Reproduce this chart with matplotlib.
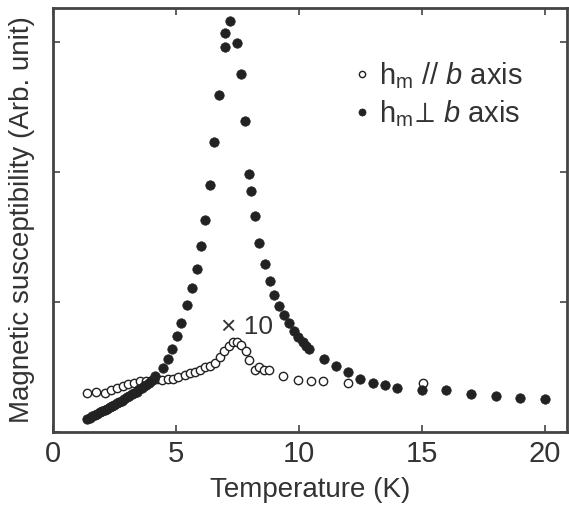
import matplotlib
matplotlib.use("Agg")
import matplotlib.pyplot as plt

main = 'Liberation Sans'
plt.rcParams['font.family'] = [main, 'DejaVu Sans']
plt.rcParams['mathtext.fontset'] = 'custom'
plt.rcParams['mathtext.rm'] = main
plt.rcParams['mathtext.it'] = main + ':italic'
plt.rcParams['mathtext.fallback'] = 'stixsans'

TXT = '#333333'
DOT = '#222222'

# h_m perpendicular to b axis (filled)
T_perp = [1.40, 1.50, 1.60, 1.70, 1.80, 1.90, 2.00, 2.10, 2.20, 2.30, 2.40, 2.50,
          2.60, 2.70, 2.80, 2.90, 3.00, 3.10, 3.20, 3.30, 3.40, 3.50, 3.60, 3.70,
          3.80, 3.90, 4.00, 4.10, 4.15,
          4.46, 4.66, 4.85, 5.03, 5.20, 5.43, 5.64, 5.84, 6.00, 6.17, 6.38, 6.56,
          6.76, 6.99, 7.00, 7.20, 7.47, 7.63, 7.80, 7.98, 8.04, 8.21, 8.39,
          8.62, 8.82, 8.98, 9.20, 9.40, 9.58, 9.78, 9.95, 10.15, 10.28, 10.42,
          11.0, 11.5, 12.0, 12.5, 13.0, 13.5, 14.0, 15.0, 16.0, 17.0, 18.0, 19.0, 20.0]
chi_perp = [0.10, 0.11, 0.12, 0.13, 0.14, 0.15, 0.16, 0.17, 0.18, 0.19, 0.20, 0.21,
            0.22, 0.23, 0.24, 0.25, 0.27, 0.28, 0.29, 0.30, 0.31, 0.33, 0.34, 0.35,
            0.36, 0.38, 0.39, 0.41, 0.43,
            0.49, 0.56, 0.64, 0.74, 0.84, 0.98, 1.11, 1.25, 1.43, 1.63, 1.90, 2.23,
            2.59, 2.96, 3.07, 3.16, 2.99, 2.75, 2.39, 1.98, 1.85, 1.66, 1.45,
            1.29, 1.16, 1.05, 0.97, 0.90, 0.84, 0.78, 0.73, 0.69, 0.66, 0.64,
            0.56, 0.51, 0.46, 0.41, 0.38, 0.36, 0.34, 0.32, 0.32, 0.29, 0.28, 0.26, 0.25]

# h_m parallel to b axis (open, x10)
T_par = [1.40, 1.75, 2.11, 2.36, 2.59, 2.83, 3.06, 3.29, 3.54, 3.77, 4.01, 4.21,
         4.44, 4.69, 4.89, 5.10, 5.37, 5.57, 5.77, 5.98, 6.18, 6.38, 6.59, 6.79,
         6.95, 7.17, 7.33, 7.49, 7.64, 7.83, 7.98, 8.21, 8.36, 8.60, 8.80,
         9.37, 9.96, 10.48, 10.99, 11.98, 15.05]
chi_par = [0.30, 0.31, 0.30, 0.32, 0.34, 0.35, 0.37, 0.38, 0.39, 0.39, 0.40, 0.41,
           0.40, 0.41, 0.41, 0.42, 0.44, 0.45, 0.46, 0.48, 0.50, 0.51, 0.53, 0.58,
           0.62, 0.66, 0.69, 0.69, 0.67, 0.62, 0.55, 0.48, 0.50, 0.48, 0.48,
           0.43, 0.40, 0.39, 0.39, 0.38, 0.38]

x_ticks = [0, 5, 10, 15, 20]
y_ticks = [0, 1, 2, 3]

fig = plt.figure(figsize=(5.69, 5.11), dpi=100)
ax = fig.add_axes([0.0931, 0.1546, 0.9034, 0.8297])

ax.plot(T_par, chi_par, linestyle='none', marker='o', ms=6.0, mfc='white',
        mec=DOT, mew=1.0, label=r'h$_\mathrm{m}$ // $b$ axis', zorder=3)
ax.plot(T_perp, chi_perp, linestyle='none', marker='o', ms=6.8, mfc=DOT,
        mec=DOT, mew=0.5, label=r'h$_\mathrm{m}\!\perp\!$ $b$ axis', zorder=4)

ax.set_xlim(0, 20.9)
ax.set_ylim(0, 3.26)
ax.set_xticks(x_ticks)
ax.set_yticks(y_ticks)
ax.set_yticklabels([])
ax.tick_params(direction='in', length=5, width=1.2, color='#444444',
               top=True, right=True, labelsize=21, labelcolor=TXT, pad=6)
for s in ax.spines.values():
    s.set_linewidth(2.0)
    s.set_color('#444444')

ax.set_xlabel('Temperature (K)', fontsize=20, color=TXT, labelpad=6)
ax.set_ylabel('Magnetic susceptibility (Arb. unit)', fontsize=20, color=TXT)
ax.yaxis.set_label_coords(-0.035, 0.5)

ax.text(6.85, 0.81, '× 10', fontsize=19, color=TXT, ha='left', va='center')

leg = ax.legend(loc='upper right', bbox_to_anchor=(0.937, 0.905), frameon=False,
                fontsize=21, handlelength=0.5, handletextpad=0.35,
                labelspacing=0.25, markerscale=0.75, borderaxespad=0)
for t in leg.get_texts():
    t.set_color(TXT)

fig.savefig('out.png', dpi=100)
